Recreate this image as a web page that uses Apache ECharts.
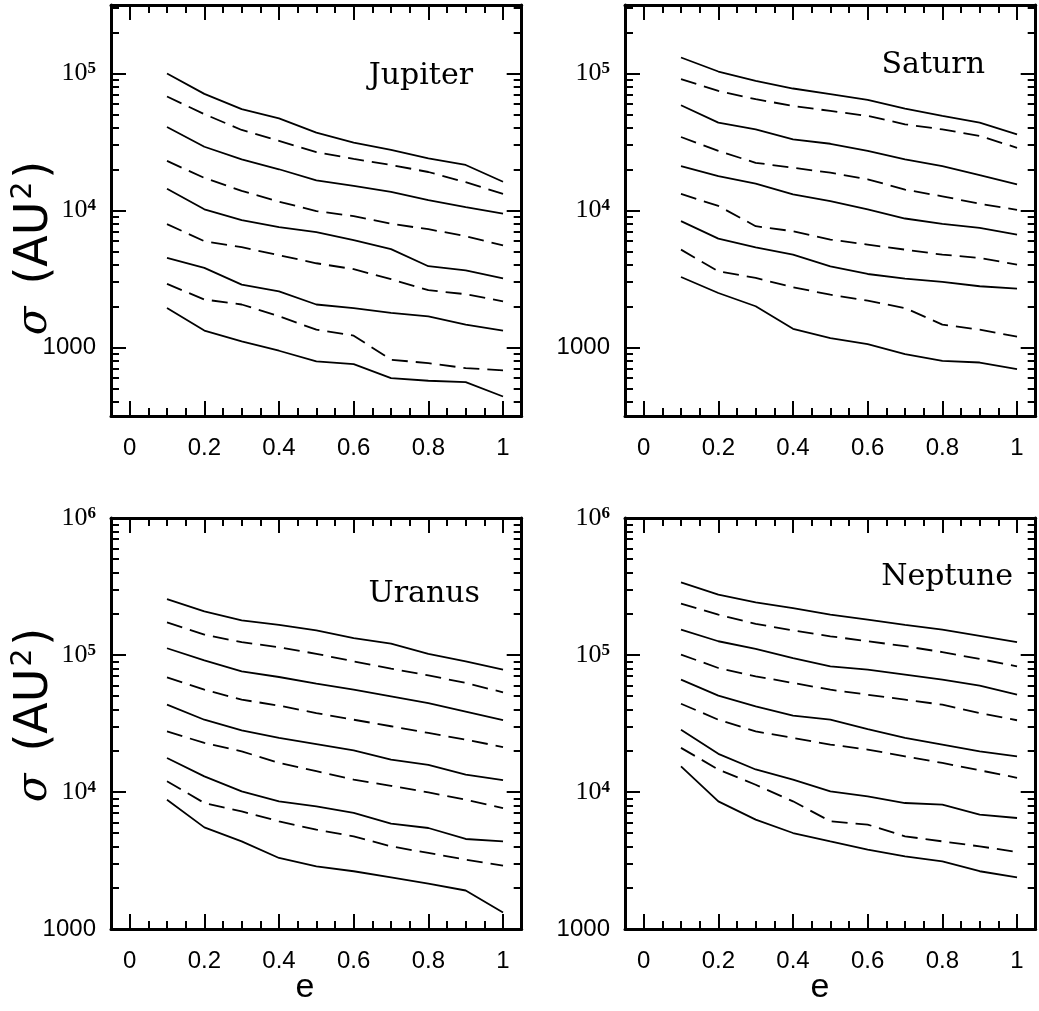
<!DOCTYPE html>
<html>
<head>
<meta charset="utf-8" />
<title>sigma vs e</title>
<script src="https://cdn.jsdelivr.net/npm/echarts@6/dist/echarts.min.js"></script>
<style>
  body { margin: 0; background: #fff; }
  #main { width: 1039px; height: 1011px; }
</style>
</head>
<body>
<div id="main"></div>
<script type="text/javascript">
// eccentricity grid shared by every curve
var ecc = [0.1, 0.2, 0.3, 0.4, 0.5, 0.6, 0.7, 0.8, 0.9, 1.0];

// sigma (AU^2), curves from top to bottom (solid, dashed, solid, ...)
var jupiter = [
  [100000, 71000, 55000, 47000, 37000, 31300, 27700, 24000, 21500, 16200],
  [67900, 50500, 38700, 32200, 26700, 23800, 21500, 19100, 16100, 13200],
  [40700, 29200, 23600, 20000, 16600, 15100, 13700, 11900, 10600, 9500],
  [23000, 17300, 13900, 11600, 9900, 9100, 8000, 7300, 6500, 5560],
  [14400, 10200, 8500, 7560, 6950, 6070, 5220, 3920, 3660, 3200],
  [7950, 5970, 5400, 4720, 4120, 3730, 3150, 2620, 2450, 2170],
  [4510, 3810, 2880, 2570, 2060, 1940, 1790, 1690, 1470, 1330],
  [2910, 2240, 2060, 1690, 1350, 1220, 814, 769, 707, 680],
  [1940, 1330, 1110, 947, 791, 756, 597, 572, 558, 439]
];
var saturn = [
  [130900, 103400, 88400, 77700, 70600, 64200, 55400, 49000, 43800, 36000],
  [90900, 74700, 64900, 58000, 53300, 49000, 42600, 39100, 35000, 28700],
  [58700, 43800, 39100, 33100, 30700, 27200, 23600, 21100, 18100, 15500],
  [34400, 27200, 22300, 20500, 18900, 16900, 14200, 12700, 11200, 10100],
  [21100, 17800, 15700, 13100, 11700, 10200, 8740, 7990, 7470, 6670],
  [13200, 10800, 7680, 7060, 6130, 5640, 5180, 4760, 4510, 4030],
  [8360, 6240, 5390, 4760, 3910, 3440, 3180, 3010, 2800, 2690],
  [5180, 3600, 3220, 2750, 2430, 2200, 1940, 1470, 1350, 1200],
  [3270, 2500, 2000, 1370, 1170, 1060, 894, 799, 777, 694]
];
var uranus = [
  [256000, 208000, 179000, 166000, 151000, 133000, 121000, 102000, 89900, 78200],
  [173000, 141000, 124000, 114000, 102000, 89900, 79500, 71000, 62500, 53400],
  [112000, 91400, 76000, 69100, 61800, 55800, 49900, 44600, 38600, 33400],
  [68700, 55800, 47200, 42700, 37700, 33700, 30200, 27000, 24100, 21300],
  [43400, 33700, 28200, 24800, 22400, 20100, 17200, 15800, 13400, 12200],
  [27700, 22800, 19800, 16300, 14200, 12300, 11100, 9940, 8790, 7640],
  [17700, 13000, 10100, 8550, 7860, 7030, 5870, 5460, 4540, 4360],
  [12000, 8310, 7220, 6110, 5310, 4750, 4010, 3590, 3210, 2900],
  [8790, 5520, 4360, 3300, 2870, 2640, 2380, 2140, 1910, 1320]
];
var neptune = [
  [339000, 276000, 242000, 220000, 197000, 181000, 166000, 153000, 138000, 124000],
  [237000, 197000, 169000, 151000, 137000, 126000, 116000, 105000, 93500, 82700],
  [153000, 126000, 111000, 95000, 82700, 78200, 71900, 66100, 59800, 51300],
  [100600, 80400, 69900, 62500, 55800, 51300, 47200, 43400, 37700, 33400],
  [66100, 50500, 42200, 36100, 33700, 28800, 24800, 22200, 19800, 18200],
  [44100, 33700, 27700, 24800, 22200, 20400, 18200, 16300, 14400, 12700],
  [28500, 19000, 14600, 12300, 10100, 9300, 8310, 8080, 6830, 6460],
  [21000, 14600, 11300, 8550, 6110, 5780, 4750, 4360, 4010, 3650],
  [15400, 8550, 6280, 5020, 4360, 3790, 3390, 3120, 2640, 2380]
];

// tick positions
var xMajor = [0, 0.2, 0.4, 0.6, 0.8, 1];
var xMinor = [0.05, 0.1, 0.15, 0.25, 0.3, 0.35, 0.45, 0.5, 0.55, 0.65, 0.7, 0.75, 0.85, 0.9, 0.95];
var yMajorTop = [1000, 10000, 100000];
var yMinorTop = [400, 500, 600, 700, 800, 900, 2000, 3000, 4000, 5000, 6000, 7000, 8000, 9000,
  20000, 30000, 40000, 50000, 60000, 70000, 80000, 90000, 200000, 300000];
var yMajorBottom = [1000, 10000, 100000, 1000000];
var yMinorBottom = [2000, 3000, 4000, 5000, 6000, 7000, 8000, 9000,
  20000, 30000, 40000, 50000, 60000, 70000, 80000, 90000,
  200000, 300000, 400000, 500000, 600000, 700000, 800000, 900000];

var panels = [
  { name: 'Jupiter', data: jupiter, left: 111, top: 5, yMin: 316.23, yMax: 316228, major: yMajorTop, minor: yMinorTop, tx: 473, ty: 76 },
  { name: 'Saturn', data: saturn, left: 625, top: 5, yMin: 316.23, yMax: 316228, major: yMajorTop, minor: yMinorTop, tx: 985, ty: 65 },
  { name: 'Uranus', data: uranus, left: 111, top: 518, yMin: 1000, yMax: 1000000, major: yMajorBottom, minor: yMinorBottom, tx: 480, ty: 594 },
  { name: 'Neptune', data: neptune, left: 625, top: 518, yMin: 1000, yMax: 1000000, major: yMajorBottom, minor: yMinorBottom, tx: 1013, ty: 577 }
];

var W = 410.7, H = 411;

function tick(values, len) {
  return { show: true, inside: true, length: len, customValues: values,
    lineStyle: { color: '#000', width: 2 } };
}
var frame = { show: true, onZero: false, lineStyle: { color: '#000', width: 3 } };
var noLine = { show: false, onZero: false };
var noLabel = { show: false };

var grids = [], xAxes = [], yAxes = [], series = [], graphics = [];

panels.forEach(function (p, k) {
  grids.push({ left: p.left, top: p.top, width: W, height: H, outerBoundsMode: 'none' });

  var xb = { type: 'value', gridIndex: k, min: -0.05, max: 1.05, splitLine: { show: false } };
  xAxes.push(Object.assign({}, xb, {
    position: 'bottom', axisLine: frame, axisTick: tick(xMajor, 15),
    axisLabel: { show: true, customValues: xMajor, margin: 20, color: '#000',
      fontFamily: 'Liberation Sans', fontSize: 24,
      formatter: function (v) { return String(v); } }
  }));
  xAxes.push(Object.assign({}, xb, { position: 'bottom', axisLine: noLine, axisTick: tick(xMinor, 8), axisLabel: noLabel }));
  xAxes.push(Object.assign({}, xb, { position: 'top', axisLine: frame, axisTick: tick(xMajor, 15), axisLabel: noLabel }));
  xAxes.push(Object.assign({}, xb, { position: 'top', axisLine: noLine, axisTick: tick(xMinor, 8), axisLabel: noLabel }));

  var yb = { type: 'log', logBase: 10, gridIndex: k, min: p.yMin, max: p.yMax, splitLine: { show: false } };
  yAxes.push(Object.assign({}, yb, {
    position: 'left', axisLine: frame, axisTick: tick(p.major, 15),
    axisLabel: { show: true, customValues: p.major, margin: 15, color: '#000',
      formatter: function (v) {
        var e = Math.round(Math.log(v) / Math.LN10);
        return e <= 3 ? '{a|1000}' : '{b|10}{s|' + e + '}';
      },
      rich: {
        a: { fontFamily: 'Liberation Sans', fontSize: 24, color: '#000' },
        b: { fontFamily: 'Liberation Serif', fontSize: 26, color: '#000', lineHeight: 26 },
        s: { fontFamily: 'Liberation Serif', fontSize: 17, fontWeight: 'bold', color: '#000', verticalAlign: 'top', lineHeight: 12 }
      } }
  }));
  yAxes.push(Object.assign({}, yb, { position: 'left', axisLine: noLine, axisTick: tick(p.minor, 8), axisLabel: noLabel }));
  yAxes.push(Object.assign({}, yb, { position: 'right', axisLine: frame, axisTick: tick(p.major, 15), axisLabel: noLabel }));
  yAxes.push(Object.assign({}, yb, { position: 'right', axisLine: noLine, axisTick: tick(p.minor, 8), axisLabel: noLabel }));

  p.data.forEach(function (curve, i) {
    series.push({
      type: 'line', xAxisIndex: 4 * k, yAxisIndex: 4 * k,
      data: ecc.map(function (e, j) { return [e, curve[j]]; }),
      showSymbol: false, symbol: 'none', silent: true,
      lineStyle: { color: '#000', width: 1.8, type: i % 2 ? [16, 8] : 'solid' }
    });
  });

  graphics.push({ type: 'text', x: p.tx, y: p.ty,
    style: { text: p.name, fill: '#000', font: '30px "DejaVu Serif"', textAlign: 'right', textVerticalAlign: 'middle' } });
});

// axis titles
[248, 715].forEach(function (cy) {
  graphics.push({ type: 'text', x: 35, y: cy, rotation: Math.PI / 2,
    style: { text: '{g|σ}{a|(AU}{p|2}{a|)}', textAlign: 'center', textVerticalAlign: 'middle', fill: '#000',
      rich: {
        g: { fontFamily: 'DejaVu Serif', fontStyle: 'italic', fontSize: 42, lineHeight: 50, padding: [0, 22, 0, 0] },
        a: { fontFamily: 'DejaVu Sans', fontSize: 46, lineHeight: 50 },
        p: { fontFamily: 'DejaVu Sans', fontSize: 28, verticalAlign: 'top', lineHeight: 30, padding: [0, 3, 0, 2] }
      } } });
});
[305, 820].forEach(function (cx) {
  graphics.push({ type: 'text', x: cx, y: 988,
    style: { text: 'e', fill: '#000', font: '34px "Liberation Sans"', textAlign: 'center', textVerticalAlign: 'middle' } });
});

var chart = echarts.init(document.getElementById('main'));
chart.setOption({
  animation: false,
  backgroundColor: '#fff',
  grid: grids,
  xAxis: xAxes,
  yAxis: yAxes,
  series: series,
  graphic: graphics
});
</script>
</body>
</html>
